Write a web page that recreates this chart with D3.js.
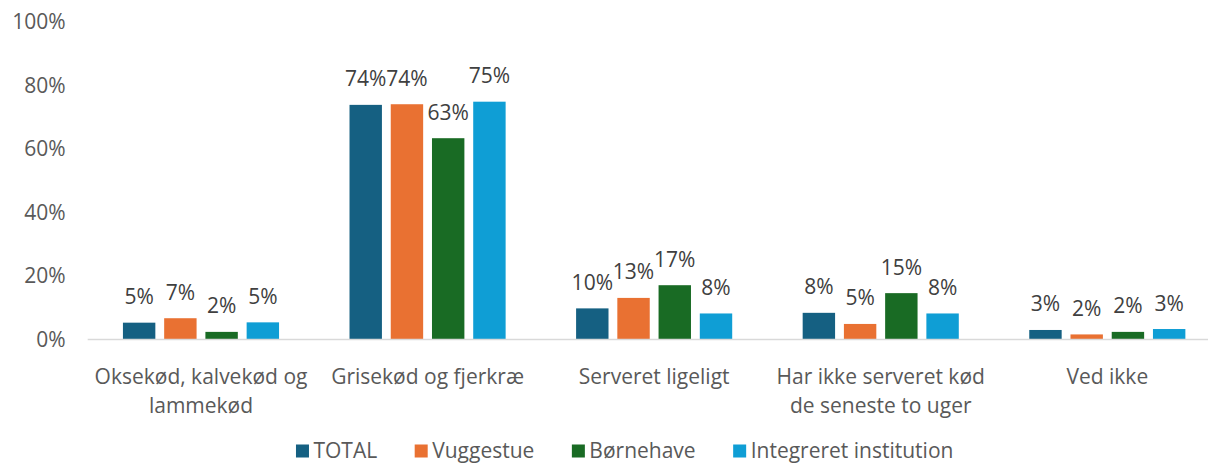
<!DOCTYPE html>
<html>
<head>
<meta charset="utf-8">
<script src="https://cdn.jsdelivr.net/npm/d3@7"></script>
<style>
  body { margin: 0; background: #fff; }
  svg { display: block; font-family: "Open Sans", sans-serif; }
</style>
</head>
<body>
<div id="chart"></div>
<script>
const categories = [
  'Oksekød, kalvekød og lammekød',
  'Grisekød og fjerkræ',
  'Serveret ligeligt',
  'Har ikke serveret kød de seneste to uger',
  'Ved ikke',
];
// how the category labels break onto two lines
const categoryLines = [
  ['Oksekød, kalvekød og', 'lammekød'],
  ['Grisekød og fjerkræ'],
  ['Serveret ligeligt'],
  ['Har ikke serveret kød', 'de seneste to uger'],
  ['Ved ikke'],
];
const seriesNames = ['TOTAL', 'Vuggestue', 'Børnehave', 'Integreret institution'];
const total = [0.053, 0.739, 0.098, 0.084, 0.03];
const vuggestue = [0.067, 0.741, 0.131, 0.049, 0.016];
const boernehave = [0.024, 0.634, 0.171, 0.146, 0.024];
const integreret = [0.054, 0.749, 0.082, 0.082, 0.033];
const yTicks = [0, 0.2, 0.4, 0.6, 0.8, 1];
const colors = ['#156082', '#E97132', '#196B24', '#0F9ED5'];

const seriesValues = [total, vuggestue, boernehave, integreret];

const width = 1208,
  height = 463;

const svg = d3
  .select('#chart')
  .append('svg')
  .attr('width', width)
  .attr('height', height);

const x0 = d3
  .scaleBand()
  .domain(categories)
  .range([87.7, 1220.6])
  .paddingInner(0.311)
  .paddingOuter(0.1555);

const x1 = d3
  .scaleBand()
  .domain(seriesNames)
  .range([0, x0.bandwidth()])
  .paddingInner(0.214)
  .paddingOuter(0);

const y = d3.scaleLinear().domain([0, 1]).range([339.5, 22]);
const color = d3.scaleOrdinal().domain(seriesNames).range(colors);
const pct = d3.format('.0%');

// y axis labels only
const yAxis = svg
  .append('g')
  .attr('transform', 'translate(87.7,0)')
  .call(d3.axisLeft(y).tickValues(yTicks).tickFormat(pct).tickSize(0).tickPadding(22));
yAxis.select('.domain').remove();
yAxis
  .selectAll('text')
  .attr('font-family', '"Open Sans", sans-serif')
  .attr('font-size', 21)
  .attr('fill', '#595959');

// bars
const groups = svg
  .append('g')
  .selectAll('g')
  .data(categories)
  .join('g')
  .attr('transform', (d) => 'translate(' + x0(d) + ',0)');

const cells = groups
  .selectAll('g')
  .data((c, i) => seriesNames.map((s, j) => ({ series: s, value: seriesValues[j][i] })))
  .join('g');

cells
  .append('rect')
  .attr('x', (d) => x1(d.series))
  .attr('y', (d) => y(d.value))
  .attr('width', x1.bandwidth())
  .attr('height', (d) => y(0) - y(d.value))
  .attr('fill', (d) => color(d.series));

cells
  .append('text')
  .attr('x', (d) => x1(d.series) + x1.bandwidth() / 2)
  .attr('y', (d) => y(d.value) - 18.5)
  .attr('text-anchor', 'middle')
  .attr('font-size', 21)
  .attr('fill', '#404040')
  .text((d) => pct(d.value));

// x axis: baseline + wrapped category labels
const xAxis = svg
  .append('g')
  .attr('transform', 'translate(0,' + y(0) + ')')
  .call(d3.axisBottom(x0).tickSize(0).tickSizeOuter(0));
xAxis
  .select('.domain')
  .attr('d', 'M87.7,0H' + width)
  .attr('stroke', '#D9D9D9')
  .attr('stroke-width', 1.3);
xAxis.selectAll('text').each(function (d, i) {
  const t = d3
    .select(this)
    .attr('y', 44.5)
    .attr('dy', null)
    .attr('font-family', '"Open Sans", sans-serif')
    .attr('font-size', 21)
    .attr('fill', '#595959')
    .text(null);
  categoryLines[i].forEach((line, k) => {
    t.append('tspan')
      .attr('x', 0)
      .attr('dy', k === 0 ? 0 : 29)
      .text(line);
  });
});

// legend, centred under the plot
const legend = svg.append('g').attr('font-size', 21).attr('fill', '#595959');
const items = legend
  .selectAll('g')
  .data(seriesNames)
  .join('g');
items
  .append('rect')
  .attr('y', 444.5)
  .attr('width', 13)
  .attr('height', 13)
  .attr('fill', (d) => color(d));
items
  .append('text')
  .attr('x', 17.5)
  .attr('y', 457.5)
  .text((d) => d);

let cursor = 0;
items.each(function () {
  const w = d3.select(this).select('text').node().getComputedTextLength();
  d3.select(this).attr('transform', 'translate(' + cursor + ',0)');
  cursor += 17.5 + w + 37.5;
});
const legendWidth = cursor - 37.5;
legend.attr('transform', 'translate(' + (624.7 - legendWidth / 2) + ',0)');
</script>
</body>
</html>
